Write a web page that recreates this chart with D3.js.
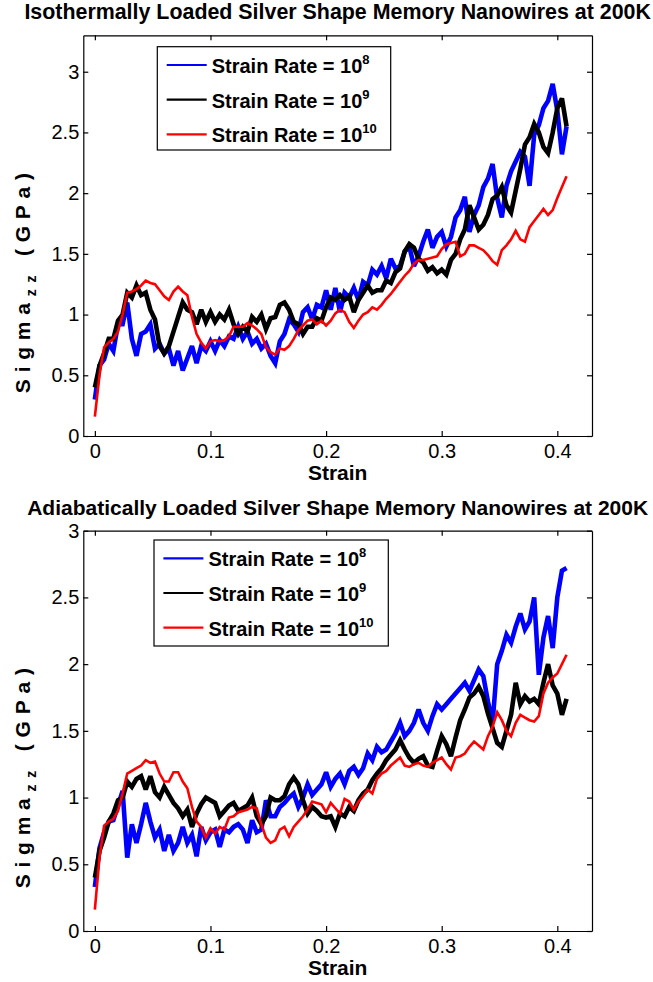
<!DOCTYPE html>
<html>
<head>
<meta charset="utf-8">
<script src="https://cdn.jsdelivr.net/npm/d3@7"></script>
<style>
  body { margin: 0; background: #fff; }
  svg { display: block; font-family: "Liberation Sans", Arial, Helvetica, sans-serif; }
</style>
</head>
<body>
<div id="chart"></div>
<script>
//Strain values shared by every curve
const strain = [0,0.004,0.008,0.012,0.016,0.02,0.024,0.028,0.032,0.036,
	0.04,0.044,0.048,0.052,0.056,0.06,0.064,0.068,0.072,0.076,
	0.08,0.084,0.088,0.092,0.096,0.1,0.104,0.108,0.112,0.116,
	0.12,0.124,0.128,0.132,0.136,0.14,0.144,0.148,0.152,0.156,
	0.16,0.164,0.168,0.172,0.176,0.18,0.184,0.188,0.192,0.196,
	0.2,0.204,0.208,0.212,0.216,0.22,0.224,0.228,0.232,0.236,
	0.24,0.244,0.248,0.252,0.256,0.26,0.264,0.268,0.272,0.276,
	0.28,0.284,0.288,0.292,0.296,0.3,0.304,0.308,0.312,0.316,
	0.32,0.324,0.328,0.332,0.336,0.34,0.344,0.348,0.352,0.356,
	0.36,0.364,0.368,0.372,0.376,0.38,0.384,0.388,0.392,0.396,
	0.4,0.404,0.408];

//Isothermal loading, sigma_zz in GPa
const isoRate8 = [0.30,0.58,0.63,0.76,0.70,0.92,0.92,1.10,0.80,0.66,
	0.84,0.86,0.92,0.72,0.76,0.68,0.72,0.58,0.70,0.54,
	0.64,0.74,0.60,0.74,0.70,0.78,0.70,0.79,0.74,0.82,
	0.80,0.90,0.80,0.86,0.76,0.80,0.72,0.76,0.66,0.60,
	0.78,0.84,0.96,0.92,0.86,1.02,1.06,0.96,1.08,1.06,
	1.20,1.04,1.22,1.02,1.18,1.14,1.22,1.12,1.27,1.24,
	1.37,1.33,1.40,1.30,1.46,1.38,1.40,1.52,1.56,1.40,
	1.48,1.60,1.70,1.55,1.64,1.68,1.56,1.64,1.80,1.86,
	1.97,1.68,1.82,1.90,2.05,2.12,2.24,1.96,1.80,2.06,
	2.18,2.26,2.34,2.30,2.06,2.48,2.56,2.70,2.76,2.90,
	2.68,2.32,2.55];
const isoRate9 = [0.40,0.58,0.68,0.80,0.80,0.95,1.00,1.18,1.14,1.24,
	1.16,1.18,1.04,0.96,0.74,0.68,0.74,0.86,0.98,1.10,
	1.04,1.02,0.92,1.04,0.94,1.02,0.94,1.00,0.96,1.04,
	0.92,0.84,0.90,0.86,0.98,0.94,1.00,0.88,0.97,0.98,
	1.08,1.10,1.04,0.94,0.92,0.84,0.90,0.90,0.97,0.95,
	1.06,1.14,1.12,1.16,1.12,1.15,1.02,1.12,1.18,1.24,
	1.18,1.20,1.20,1.28,1.26,1.35,1.38,1.52,1.58,1.55,
	1.46,1.43,1.36,1.39,1.34,1.37,1.33,1.45,1.50,1.62,
	1.70,1.90,1.80,1.70,1.74,1.82,1.95,1.98,2.05,1.90,
	1.84,2.02,2.20,2.40,2.46,2.57,2.50,2.38,2.33,2.50,
	2.70,2.78,2.55];
const isoRate10 = [0.16,0.50,0.73,0.77,0.80,0.86,1.00,1.18,1.19,1.21,
	1.24,1.28,1.26,1.25,1.20,1.15,1.12,1.19,1.23,1.19,
	1.16,0.98,0.84,0.77,0.72,0.78,0.79,0.78,0.79,0.82,
	0.90,0.90,0.90,0.93,0.91,0.88,0.84,0.73,0.69,0.67,
	0.72,0.71,0.74,0.80,0.87,0.91,0.95,0.96,0.92,0.95,
	0.91,0.95,1.01,1.04,1.02,0.94,0.89,0.95,1.00,1.02,
	1.06,1.04,1.08,1.13,1.17,1.22,1.27,1.32,1.36,1.42,
	1.45,1.45,1.46,1.47,1.48,1.54,1.58,1.59,1.60,1.48,
	1.50,1.57,1.57,1.55,1.53,1.49,1.44,1.41,1.53,1.57,
	1.62,1.69,1.62,1.60,1.72,1.77,1.82,1.87,1.82,1.86,
	1.96,2.05,2.14];

//Adiabatic loading, sigma_zz in GPa
const adiRate8 = [0.33,0.62,0.74,0.82,0.83,0.94,1.05,0.55,0.80,0.66,
	0.80,0.96,0.82,0.70,0.76,0.60,0.72,0.60,0.66,0.78,
	0.66,0.72,0.56,0.78,0.68,0.74,0.76,0.63,0.76,0.74,
	0.78,0.80,0.76,0.66,0.83,0.74,0.76,0.98,0.86,0.86,
	0.93,0.96,1.00,1.03,0.93,1.00,1.10,1.02,1.06,1.10,
	1.19,1.08,1.14,1.18,1.10,1.20,1.23,1.17,1.22,1.33,
	1.28,1.38,1.34,1.36,1.42,1.48,1.56,1.46,1.50,1.56,
	1.66,1.56,1.50,1.61,1.70,1.66,1.70,1.74,1.78,1.82,
	1.86,1.80,1.88,1.96,1.91,1.72,1.56,2.00,2.10,2.22,
	2.16,2.28,2.38,2.26,2.32,2.50,1.92,2.20,2.36,2.12,
	2.50,2.70,2.72];
const adiRate9 = [0.40,0.60,0.70,0.82,0.88,0.98,1.00,1.12,1.08,1.14,
	1.16,1.06,1.16,1.04,1.00,1.08,1.02,0.96,0.92,0.86,
	0.91,0.78,0.88,0.95,1.00,0.98,0.96,0.86,0.90,0.94,
	0.96,0.90,0.92,0.94,1.00,0.86,0.80,0.86,1.00,0.98,
	0.98,1.01,1.10,1.15,1.10,0.98,0.88,0.93,0.90,0.86,
	0.85,0.86,0.78,0.88,0.86,0.93,0.90,0.98,1.03,1.06,
	1.13,1.18,1.22,1.28,1.32,1.36,1.43,1.36,1.30,1.26,
	1.29,1.31,1.24,1.23,1.35,1.46,1.40,1.31,1.45,1.58,
	1.66,1.75,1.78,1.83,1.76,1.63,1.52,1.41,1.38,1.50,
	1.62,1.86,1.70,1.76,1.72,1.74,1.70,1.86,2.00,1.84,
	1.78,1.62,1.74];
const adiRate10 = [0.16,0.55,0.79,0.82,0.84,0.90,1.03,1.18,1.20,1.22,
	1.24,1.28,1.26,1.27,1.18,1.12,1.12,1.19,1.19,1.12,
	1.07,0.93,0.82,0.78,0.70,0.77,0.73,0.78,0.76,0.85,
	0.86,0.89,0.90,0.91,0.93,0.92,0.80,0.70,0.66,0.68,
	0.76,0.78,0.71,0.78,0.82,0.86,0.91,0.97,0.96,0.95,
	0.89,0.96,0.92,0.88,0.99,0.97,0.91,0.97,1.01,1.06,
	1.03,1.14,1.18,1.20,1.24,1.27,1.30,1.24,1.23,1.25,
	1.26,1.24,1.23,1.26,1.28,1.30,1.25,1.21,1.30,1.31,
	1.33,1.38,1.42,1.39,1.36,1.46,1.53,1.64,1.58,1.50,
	1.46,1.56,1.62,1.60,1.58,1.57,1.61,1.78,1.86,1.90,
	1.93,2.00,2.07];

//Texts and ticks
const titles = ["Isothermally Loaded Silver Shape Memory Nanowires at 200K",
	"Adiabatically Loaded Silver Shape Memory Nanowires at 200K"];
const rateExponents = ["8", "9", "10"];
const xTicks = [0, 0.1, 0.2, 0.3, 0.4];
const yTicks = [0, 0.5, 1, 1.5, 2, 2.5, 3];
const xLabel = "Strain";

//Svg container width and height
const c_width = 653;
const c_height = 982;

//Line styles, in the order blue (1e8), black (1e9), red (1e10)
const colors = ["#0000ff", "#000000", "#ff0000"];
const lineWidths = [4.6, 4.6, 2.6];

//Axes box, same left/right for both panels
const left = 83.3;
const right = 592;

const panels = [
	{title: titles[0], series: [isoRate8, isoRate9, isoRate10], yMax: 3.3,
	 top: 35.3, bottom: 436, titleY: 19, titleSize: 21.4, legend: {x: 157.3, y: 46.7, w: 233.4, h: 103.3}},
	{title: titles[1], series: [adiRate8, adiRate9, adiRate10], yMax: 3,
	 top: 530.7, bottom: 931, titleY: 515, titleSize: 21, legend: {x: 154, y: 540, w: 234.3, h: 106}}
];

//The svg container
const svgContainer = d3.select("#chart")
	.append("svg")
	.attr("width", c_width)
	.attr("height", c_height);

svgContainer.append("rect")
	.attr("width", c_width)
	.attr("height", c_height)
	.attr("fill", "#fff");

panels.forEach(p => {
	const g = svgContainer.append("g");

	//Creating scales
	const xScale = d3.scaleLinear()
		.domain([-0.01, 0.43])
		.range([left, right]);

	const yScale = d3.scaleLinear()
		.domain([0, p.yMax])
		.range([p.bottom, p.top]);

	//The curves, red drawn last
	const line = d3.line()
		.x((d, i) => xScale(strain[i]))
		.y(d => yScale(d));

	p.series.forEach((s, k) => {
		g.append("path")
			.datum(s)
			.attr("d", line)
			.attr("fill", "none")
			.attr("stroke", colors[k])
			.attr("stroke-width", lineWidths[k])
			.attr("stroke-linejoin", "miter")
			.attr("stroke-miterlimit", 3);
	});

	//Adding the axes (ticks point inward on all four sides)
	const fmt = d => String(d);
	const ticksY = yTicks.filter(v => v <= p.yMax);

	const axes = [
		g.append("g").attr("transform", "translate(0," + p.bottom + ")")
			.call(d3.axisBottom(xScale).tickValues(xTicks).tickSizeInner(-5).tickSizeOuter(0).tickPadding(8).tickFormat(fmt)),
		g.append("g").attr("transform", "translate(0," + p.top + ")")
			.call(d3.axisTop(xScale).tickValues(xTicks).tickSizeInner(-5).tickSizeOuter(0).tickFormat("")),
		g.append("g").attr("transform", "translate(" + left + ",0)")
			.call(d3.axisLeft(yScale).tickValues(ticksY).tickSizeInner(-5).tickSizeOuter(0).tickPadding(4).tickFormat(fmt)),
		g.append("g").attr("transform", "translate(" + right + ",0)")
			.call(d3.axisRight(yScale).tickValues(ticksY).tickSizeInner(-5).tickSizeOuter(0).tickFormat(""))
	];
	axes.forEach(a => {
		a.selectAll("path, line").attr("stroke", "#000").attr("stroke-width", 1.2);
		a.selectAll("text")
			.attr("fill", "#000")
			.style("font-family", "'Liberation Sans', Arial, sans-serif")
			.style("font-size", "20px");
	});

	//Title
	g.append("text")
		.attr("x", (left + right) / 2)
		.attr("y", p.titleY)
		.attr("text-anchor", "middle")
		.style("font-size", p.titleSize + "px")
		.style("font-weight", "bold")
		.text(p.title);

	//Axis labels
	g.append("text")
		.attr("x", (left + right) / 2)
		.attr("y", p.bottom + 44)
		.attr("text-anchor", "middle")
		.style("font-size", "21px")
		.style("font-weight", "bold")
		.text(xLabel);

	//y label is spread out along its length, as in the original export
	const yLab = g.append("text")
		.attr("transform", "translate(30," + ((p.top + p.bottom) / 2 + 44) + ") rotate(-90)")
		.attr("text-anchor", "middle")
		.style("font-size", "21px")
		.style("font-weight", "bold");
	yLab.append("tspan").text("Sigma");
	yLab.append("tspan").attr("dy", 6).style("font-size", "14px").text("zz");
	yLab.append("tspan").attr("dy", -6).text(" (GPa)");
	const natural = yLab.node().getComputedTextLength();
	yLab.style("letter-spacing", ((227 - natural) / 13) + "px");

	//Legend
	const L = p.legend;
	g.append("rect")
		.attr("x", L.x)
		.attr("y", L.y)
		.attr("width", L.w)
		.attr("height", L.h)
		.attr("fill", "#fff")
		.attr("stroke", "#000")
		.attr("stroke-width", 1.2);

	rateExponents.forEach((e, k) => {
		const ry = L.y + 18.3 + k * 34.7;
		g.append("line")
			.attr("x1", L.x + 9.4)
			.attr("x2", L.x + 49.4)
			.attr("y1", ry)
			.attr("y2", ry)
			.attr("stroke", colors[k])
			.attr("stroke-width", 2.2);
		const t = g.append("text")
			.attr("x", L.x + 54.4)
			.attr("y", ry + 8)
			.style("font-size", "20px")
			.style("font-weight", "bold")
			.text("Strain Rate = 10");
		t.append("tspan")
			.attr("dy", -9)
			.style("font-size", "13px")
			.text(e);
	});
});
</script>
</body>
</html>
